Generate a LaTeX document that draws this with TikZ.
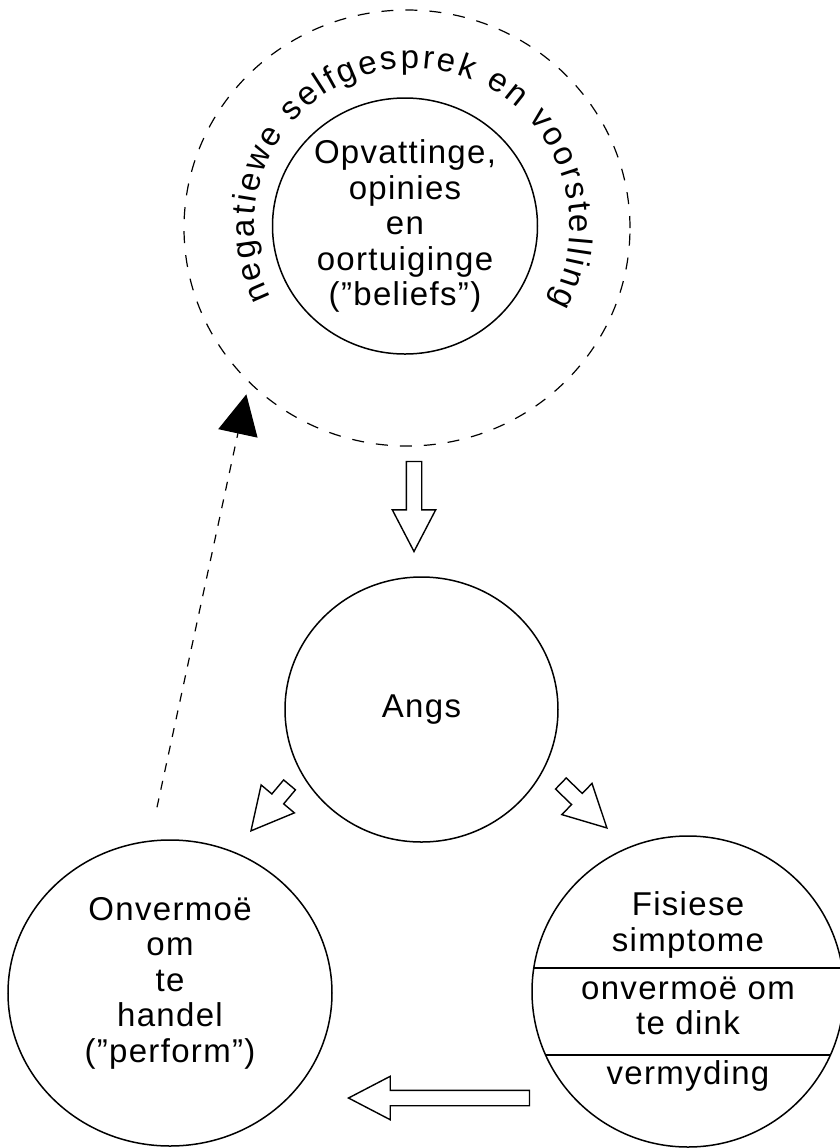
\documentclass[tikz,border=0pt]{standalone}
\usepackage{fontspec}
\setmainfont{Liberation Sans}[LetterSpace=4]
\newfontfamily\ringfont{Liberation Sans}
\usepackage{tikz}
\usetikzlibrary{positioning, shapes.geometric, shapes.arrows, arrows.meta, calc, decorations.text}

\begin{document}
\begin{tikzpicture}[x=0.5pt, y=-0.5pt, font=\fontsize{16.5pt}{17.75pt}\selectfont]

  \tikzstyle{ringbox} = [
    ellipse, draw, line width=0.75pt,
    inner sep=0pt, align=center
  ]
  \tikzstyle{blockarrow} = [
    single arrow, draw, line width=0.7pt,
    inner sep=3.5pt, minimum width=0pt,
    single arrow head extend=7pt, single arrow tip angle=55,
    anchor=tip
  ]

  \useasboundingbox (0,0) rectangle (840,1148);

  \node[ringbox, dashed, dash pattern=on 6pt off 6pt, line width=0.6pt,
        minimum width=223pt, minimum height=218pt] (outer) at (407,228) {};

  \node[ringbox, minimum width=132.5pt, minimum height=128pt] (beliefs) at (405,226)
    {Opvattinge,\\opinies\\en\\oortuiginge\\(”beliefs”)};

  \node[ringbox, minimum width=136.5pt, minimum height=132.5pt] (angs) at (421.5,709.5)
    {Angs};

  \node[ringbox, minimum width=162pt, minimum height=153pt] (onv) at (170,993) {};
  \node[align=center] (onvtext) at ($(onv.center)+(0,-10)$)
    {Onvermoë\\om\\te\\handel\\(”perform”)};

  \node[ringbox, minimum width=156pt, minimum height=155.5pt] (fis) at (688,991.5)
    {Fisiese\\simptome\\[6.25pt]onvermoë om\\te dink\\[7.25pt]vermyding};

  \draw[line width=0.75pt] ($(fis.center)+(-154.2,-23.5)$) -- ($(fis.center)+(154.2,-23.5)$);
  \draw[line width=0.75pt] ($(fis.center)+(-142.4,63.5)$) -- ($(fis.center)+(142.4,63.5)$);

  \path[decorate, decoration={text along path, text align=fit to path,
        text={|\ringfont\fontsize{16.5pt}{18pt}\selectfont|negatiewe selfgesprek en voorstelling}}]
    ($(outer.center)+(5,-2)$) ++(153:158) arc[start angle=153, end angle=389, radius=158];

  \node[blockarrow, rotate=-90, minimum height=45pt] (toangs) at (414,553) {};
  \node[blockarrow, rotate=230, minimum height=30pt] (toonv) at (250,832) {};
  \node[blockarrow, rotate=-44, minimum height=32pt] (tofis) at (608,829) {};
  \node[blockarrow, rotate=180, minimum height=90.5pt] (back) at (347,1098) {};

  \coordinate (fb) at ($(onv.north)+(-13,-32)$);
  \draw[dashed, dash pattern=on 4.5pt off 4.5pt, line width=0.6pt,
        -{Triangle[length=20pt, width=20pt]}, shorten >=6pt] (fb) -- (outer.south west);

\end{tikzpicture}
\end{document}
